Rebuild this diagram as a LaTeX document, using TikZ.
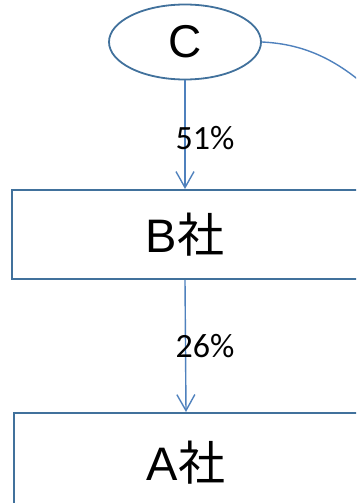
\documentclass[tikz,border=0pt]{standalone}
\usepackage{fontspec}
\setmainfont{Liberation Sans}
\newfontfamily\cjk{Noto Sans CJK JP}
\newfontfamily\labelfont{Carlito}
\usetikzlibrary{arrows.meta,shapes.geometric}

\definecolor{edgeblue}{HTML}{41719C}
\definecolor{linkblue}{HTML}{4F81BD}

\tikzset{
  company/.style={draw=edgeblue, line width=2pt, fill=white, rectangle,
    inner sep=0pt, font=\fontsize{47}{47}\selectfont},
  holder/.style={draw=edgeblue, line width=1.8pt, fill=white, ellipse,
    inner sep=0pt, minimum width=152pt, minimum height=75pt,
    font=\fontsize{46}{46}\selectfont},
  share/.style={draw=linkblue, line width=1.4pt,
    -{Straight Barb[length=16pt,width=18pt,line width=1.4pt]}},
  pct/.style={font=\labelfont\fontsize{34}{34}\selectfont, inner sep=0pt},
}

\begin{document}
\begin{tikzpicture}[x=1pt, y=-1pt]
  \useasboundingbox (0,0) rectangle (356,503);
  \clip (0,0) rectangle (356,503);

  % shareholder and companies
  \node[holder] (C) at (185,42) {C};
  \node[company, minimum width=346pt, minimum height=89pt] (B) at (185,234.5) {B{\cjk 社}};
  \node[company, minimum width=344pt, minimum height=100pt] (A) at (186,463) {A{\cjk 社}};

  % holding links
  \draw[share] (C.south) -- (B.north);
  \draw[share] (B.south) -- (A.north);

  % link to a holding off to the right
  \coordinate (Cfar) at (392,112);
  \draw[draw=linkblue, line width=1.4pt]
    (C.east) .. controls (305,44) and (345,60) .. (Cfar);

  % ownership shares
  \node[pct] (p1) at (205,138) {51\%};
  \node[pct] (p2) at (205,346) {26\%};
\end{tikzpicture}
\end{document}
